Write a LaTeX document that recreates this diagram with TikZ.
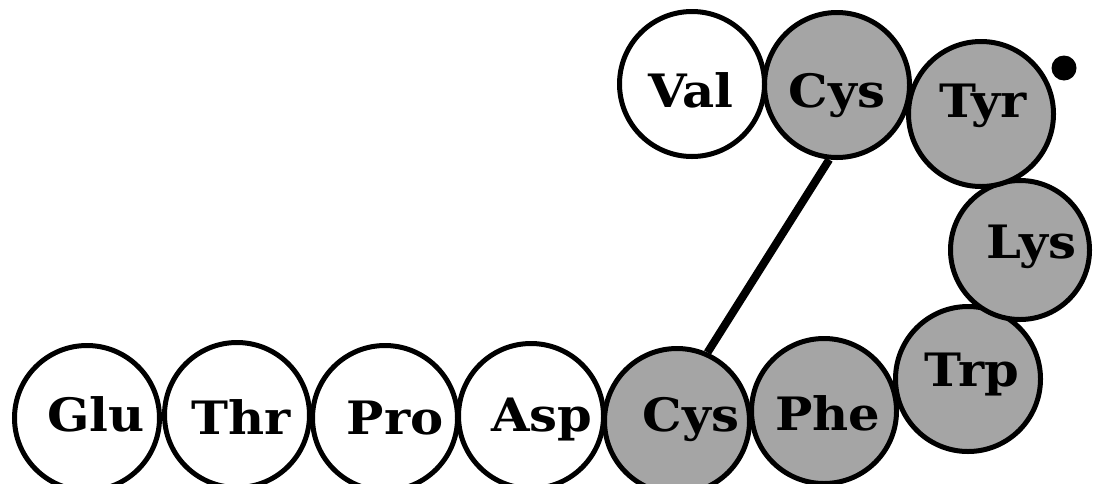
\documentclass[tikz,border=0pt]{standalone}
\usepackage{fontspec}
\setmainfont{DejaVu Serif}[FakeStretch=1.08]
\definecolor{resgray}{RGB}{165,165,165}
\begin{document}
\begin{tikzpicture}[x=1pt,y=-1pt,
  res/.style={circle,draw=black,line width=5pt,minimum size=145pt,inner sep=0pt},
  wres/.style={res,fill=white},
  gres/.style={res,fill=resgray},
  lab/.style={anchor=base,inner sep=0pt,font=\fontsize{46}{50}\selectfont\bfseries},
  bond/.style={line width=8pt,line cap=butt}]
\useasboundingbox[fill=white] (0,0) rectangle (1094,483);
% bottom row
\node[wres] (glu) at (87,418) {};
\node[wres] (thr) at (237,415) {};
\node[wres] (pro) at (385,418) {};
\node[wres] (asp) at (531,416) {};
\node[gres] (cysb) at (677,421) {};
\node[gres] (phe) at (824,411) {};
\node[gres] (trp) at (968,379) {};
\node[gres,minimum size=139pt] (lys) at (1020,250) {};
\node[gres] (tyr) at (981,114) {};
\node[gres] (cyst) at (837,85) {};
\node[wres] (val) at (692,84) {};
\node[circle,fill=black,inner sep=0pt,minimum size=25pt] (dot) at (1064,68) {};
% disulfide bond
\draw[bond] (cyst.264) -- (cysb.66);
% labels
\node[lab] (lglu) at (96,431) {Glu};
\node[lab] (lthr) at (241,434) {Thr};
\node[lab] (lpro) at (395,434) {Pro};
\node[lab] (lasp) at (542,431) {Asp};
\node[lab] (lcysb) at (691,431) {Cys};
\node[lab] (lphe) at (828,430) {Phe};
\node[lab] (ltrp) at (972,386) {Trp};
\node[lab] (llys) at (1031,258) {Lys};
\node[lab] (ltyr) at (983,117) {Tyr};
\node[lab] (lcyst) at (837,107) {Cys};
\node[lab] (lval) at (691,107) {Val};
\end{tikzpicture}
\end{document}
